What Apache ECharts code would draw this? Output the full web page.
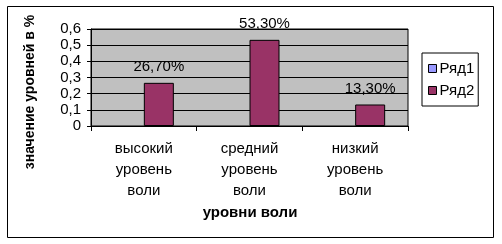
<!DOCTYPE html>
<html>
<head>
<meta charset="utf-8">
<script src="https://cdn.jsdelivr.net/npm/echarts@6/dist/echarts.min.js"></script>
<style>
html,body{margin:0;padding:0;background:#fff;}
#c{width:502px;height:244px;}
</style>
</head>
<body>
<div id="c"></div>
<script>
const categories = ['высокий\nуровень\nволи', 'средний\nуровень\nволи', 'низкий\nуровень\nволи'];
const seriesNames = ['Ряд1', 'Ряд2'];
const ryad1 = [null, null, null];
const ryad2 = [0.267, 0.533, 0.133];
const yTicks = [0, 0.1, 0.2, 0.3, 0.4, 0.5, 0.6];

const FONT = '"Liberation Sans", Arial, sans-serif';
const chart = echarts.init(document.getElementById('c'), null, {renderer: 'canvas'});
const fmtPct = v => (v * 100).toFixed(2).replace('.', ',') + '%';

chart.setOption({
  animation: false,
  backgroundColor: '#fff',
  graphic: [
    {type: 'rect', shape: {x: 7.5, y: 6.5, width: 486, height: 231}, style: {fill: 'none', stroke: '#000', lineWidth: 1}, z: 100},
    {type: 'text', x: 30, y: 92, rotation: Math.PI / 2, style: {text: 'значение уровней в %', font: 'bold 14px ' + FONT, fill: '#000', align: 'center', verticalAlign: 'middle'}},
    {type: 'text', x: 250, y: 213, style: {text: 'уровни воли', font: 'bold 15px ' + FONT, fill: '#000', align: 'center', verticalAlign: 'middle'}}
  ],
  legend: {
    data: seriesNames,
    orient: 'vertical',
    left: 422,
    top: 53,
    width: 66,
    padding: [8, 4, 8, 6],
    itemGap: 7,
    itemWidth: 8,
    itemHeight: 8,
    icon: 'rect',
    borderColor: '#000',
    borderWidth: 1,
    itemStyle: {borderColor: '#000', borderWidth: 1},
    textStyle: {fontFamily: FONT, fontSize: 15, color: '#000', padding: [0, 0, 0, -2]}
  },
  grid: {left: 91, right: 94, top: 29, bottom: 118, show: true, backgroundColor: '#C0C0C0', borderColor: '#000', borderWidth: 1},
  xAxis: {
    type: 'category',
    data: categories,
    axisLine: {lineStyle: {color: '#000'}},
    axisTick: {show: true, length: 5, lineStyle: {color: '#000'}},
    axisLabel: {fontFamily: FONT, fontSize: 15, color: '#000', lineHeight: 21, margin: 12, interval: 0}
  },
  yAxis: {
    type: 'value',
    min: 0, max: 0.6, interval: 0.1,
    axisLine: {show: true, lineStyle: {color: '#000'}},
    axisTick: {show: true, length: 4, lineStyle: {color: '#000'}},
    splitLine: {lineStyle: {color: '#000'}},
    axisLabel: {fontFamily: FONT, fontSize: 15, color: '#000', margin: 10,
      formatter: v => (Math.round(v * 10) / 10).toString().replace('.', ',')}
  },
  series: [
    {name: seriesNames[0], type: 'bar', data: ryad1, barWidth: 30, barGap: '0%',
      itemStyle: {color: '#9999FF', borderColor: '#000', borderWidth: 1}},
    {name: seriesNames[1], type: 'bar', data: ryad2, barWidth: 30, barGap: '0%',
      itemStyle: {color: '#993366', borderColor: '#000', borderWidth: 1},
      label: {show: true, position: 'top', distance: 8, fontFamily: FONT, fontSize: 15, color: '#000',
        formatter: p => fmtPct(p.value)}}
  ]
});
</script>
</body>
</html>
